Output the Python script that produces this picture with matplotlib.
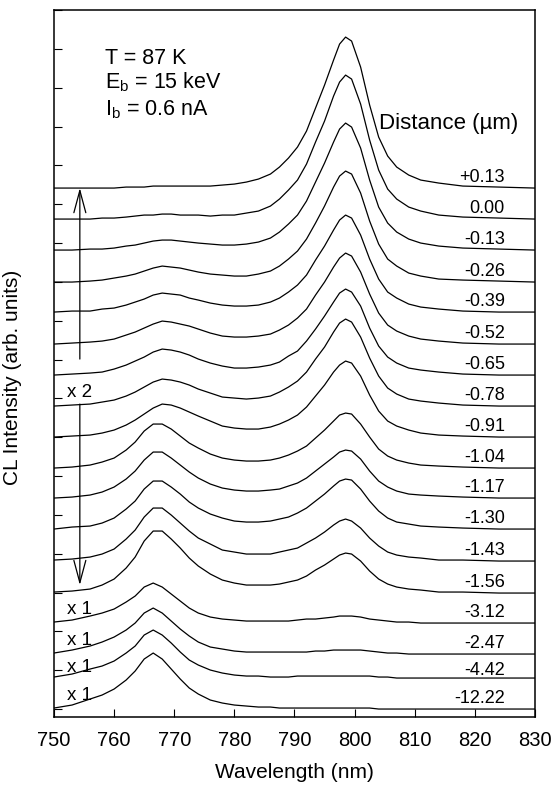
import numpy as np
import matplotlib.pyplot as plt

plt.rcParams['font.family'] = 'Liberation Sans'
plt.rcParams['mathtext.fontset'] = 'custom'
plt.rcParams['mathtext.rm'] = 'Liberation Sans'
plt.rcParams['mathtext.it'] = 'Liberation Sans:italic'

wavelength = [750, 753, 756, 758, 760, 762, 763.5, 765, 766.5, 768,
              769.5, 771, 772.5, 774, 776, 778, 780, 782, 784, 786,
              787.5, 789, 790.5, 792, 793.5, 795, 796.5, 797.5, 798.5, 799.5,
              801, 802.5, 804, 805.5, 807, 809, 811, 814, 818, 824, 830]

# CL intensity above each trace's own baseline (arb. units), one list per distance
s_p013 = [0, 0, 0, 0, 0, 1, 1, 1, 2, 2, 2, 2, 2, 2, 2, 3, 4, 6, 9, 14,
          21, 30, 41, 57, 80, 103, 128, 144, 151, 147, 121, 83, 51, 32, 21, 13, 8, 5, 2, 1, 0]
s_000 = [0, 0, 0, 1, 1, 2, 3, 4, 4, 5, 5, 4, 4, 4, 3, 4, 4, 6, 8, 13,
         20, 29, 39, 55, 77, 98, 123, 137, 144, 140, 115, 79, 49, 30, 20, 12, 8, 4, 2, 1, 0]
s_m013 = [0, 0, 1, 1, 2, 4, 5, 7, 9, 10, 10, 9, 8, 7, 6, 5, 5, 6, 8, 12,
          18, 26, 35, 49, 68, 87, 108, 121, 127, 123, 102, 70, 43, 27, 18, 11, 7, 4, 2, 1, 0]
s_m026 = [0, 0, 1, 2, 4, 6, 8, 11, 14, 16, 15, 14, 12, 10, 8, 7, 6, 6, 8, 11,
          16, 23, 31, 43, 59, 76, 95, 106, 111, 108, 89, 61, 38, 23, 16, 9, 6, 3, 2, 1, 0]
s_m039 = [0, 1, 1, 3, 4, 7, 10, 13, 17, 19, 18, 17, 14, 12, 9, 7, 6, 6, 7, 10,
          14, 20, 27, 37, 52, 66, 82, 92, 97, 94, 77, 53, 33, 20, 14, 8, 5, 3, 1, 0, 0]
s_m052 = [0, 1, 2, 3, 5, 9, 12, 16, 20, 23, 22, 20, 18, 15, 11, 8, 7, 7, 8, 10,
          14, 19, 26, 35, 49, 62, 77, 86, 91, 88, 72, 50, 31, 19, 13, 8, 5, 3, 1, 0, 0]
s_m065 = [0, 1, 2, 3, 6, 10, 14, 18, 23, 26, 25, 23, 20, 16, 12, 9, 7, 7, 8, 10,
          13, 19, 24, 34, 46, 59, 73, 82, 86, 83, 69, 47, 29, 18, 12, 7, 5, 3, 1, 0, 0]
s_m078 = [0, 1, 2, 4, 6, 10, 14, 19, 24, 27, 26, 24, 21, 17, 13, 9, 8, 7, 8, 10,
          14, 19, 25, 34, 47, 59, 74, 83, 87, 84, 69, 48, 30, 18, 12, 7, 5, 3, 1, 0, 0]
s_m091 = [0, 1, 2, 4, 7, 12, 17, 23, 29, 33, 32, 29, 25, 21, 16, 11, 9, 8, 8, 10,
          13, 17, 22, 30, 41, 52, 65, 72, 76, 74, 61, 42, 26, 16, 11, 7, 4, 2, 1, 0, 0]
s_m104 = [0, 1, 3, 6, 10, 18, 26, 37, 44, 44, 39, 32, 25, 20, 14, 10, 8, 7, 7, 8,
          10, 13, 17, 22, 30, 38, 47, 53, 55, 54, 44, 31, 19, 12, 8, 5, 3, 2, 1, 0, 0]
s_m117 = [0, 1, 3, 6, 11, 19, 27, 38, 46, 46, 40, 33, 26, 20, 14, 10, 8, 7, 7, 8,
          9, 12, 15, 20, 27, 34, 41, 46, 48, 47, 39, 27, 17, 11, 7, 4, 3, 2, 1, 0, 0]
s_m130 = [0, 2, 3, 6, 11, 20, 28, 40, 48, 48, 42, 35, 27, 21, 15, 11, 8, 7, 7, 8,
          10, 12, 16, 21, 28, 35, 43, 48, 50, 49, 40, 28, 18, 11, 7, 5, 3, 2, 1, 0, 0]
s_m143 = [1, 2, 4, 7, 12, 22, 31, 44, 53, 53, 46, 38, 30, 23, 17, 11, 9, 7, 7, 7,
          9, 11, 13, 18, 23, 29, 36, 40, 42, 40, 33, 23, 15, 9, 6, 4, 3, 1, 1, 0, 0]
s_m156 = [1, 2, 4, 8, 14, 25, 36, 52, 62, 62, 54, 45, 35, 27, 19, 13, 10, 8, 8, 8,
          9, 11, 13, 17, 23, 28, 34, 38, 40, 39, 32, 22, 14, 9, 6, 4, 3, 1, 1, 0, 0]
s_m312 = [1, 3, 7, 10, 14, 21, 27, 36, 40, 36, 29, 22, 15, 10, 6, 4, 3, 2, 2, 2,
          2, 2, 3, 4, 4, 5, 6, 7, 7, 7, 6, 4, 3, 2, 1, 1, 0, 0, 0, 0, 0]
s_m247 = [1, 4, 8, 12, 17, 24, 31, 41, 46, 41, 33, 25, 18, 12, 7, 5, 3, 2, 2, 2,
          2, 2, 2, 2, 3, 3, 4, 4, 4, 4, 4, 3, 2, 1, 1, 0, 0, 0, 0, 0, 0]
s_m442 = [1, 4, 9, 12, 17, 25, 32, 43, 48, 43, 35, 26, 18, 13, 8, 5, 3, 2, 2, 1,
          1, 1, 2, 2, 2, 2, 2, 2, 2, 2, 2, 2, 1, 1, 0, 0, 0, 0, 0, 0, 0]
s_m1222 = [1, 4, 10, 14, 20, 29, 38, 50, 56, 50, 40, 30, 21, 15, 9, 6, 4, 3, 2, 2,
           1, 1, 1, 1, 1, 1, 1, 1, 1, 1, 1, 1, 0, 0, 0, 0, 0, 0, 0, 0, 0]

spectra = [s_p013, s_000, s_m013, s_m026, s_m039, s_m052, s_m065, s_m078, s_m091,
           s_m104, s_m117, s_m130, s_m143, s_m156, s_m312, s_m247, s_m442, s_m1222]
distance_labels = ['+0.13', '0.00', '-0.13', '-0.26', '-0.39', '-0.52', '-0.65', '-0.78', '-0.91',
                   '-1.04', '-1.17', '-1.30', '-1.43', '-1.56', '-3.12', '-2.47', '-4.42', '-12.22']
# vertical stacking of the traces
offsets = [521, 490, 459, 427, 397, 365, 334, 303, 272, 241, 211, 180, 148, 116, 86, 55, 31, 0]
gains = ['', '', '', '', '', '', '', 'x 2', '', '', '', '', '', '', 'x 1', 'x 1', 'x 1', 'x 1']

fig = plt.figure(figsize=(5.56, 7.87), dpi=100)
ax = fig.add_axes([0.0971, 0.0889, 0.8651, 0.8983])

for i, (vals, off, lab) in enumerate(zip(spectra, offsets, distance_labels)):
    ax.plot(wavelength, off + np.array(vals), color='k', lw=0.9)
    dy = 3 if i == 16 else 6
    ax.text(825, off + dy, lab, ha='right', va='baseline', fontsize=13)
    if gains[i]:
        gdy = 6 if i == 16 else 9
        ax.text(752.2, off + gdy, gains[i], ha='left', va='baseline', fontsize=13.5)

# x2 range arrows
arrow = dict(arrowstyle='->,head_length=16,head_width=4.3', mutation_scale=1,
             lw=0.9, color='k', shrinkA=0, shrinkB=0)
ax.annotate('', xy=(754.3, offsets[0]), xytext=(754.3, 350), arrowprops=arrow)
ax.annotate('', xy=(754.3, 124), xytext=(754.3, 305), arrowprops=arrow)

ax.text(758.5, 645, 'T = 87 K', fontsize=15.5, va='baseline')
ax.text(758.5, 621, r'E$_\mathrm{b}$ = 15 keV', fontsize=15.5, va='baseline')
ax.text(758.5, 594, r'I$_\mathrm{b}$ = 0.6 nA', fontsize=15.5, va='baseline')
ax.text(827.2, 580, 'Distance (\u00b5m)', fontsize=16, ha='right', va='baseline')

ax.set_xlim(750, 830)
ax.set_ylim(-8, 699)
ax.set_xticks(range(750, 831, 10))
ax.set_yticks(np.linspace(0, 699, 19))
ax.tick_params(axis='x', direction='in', length=6, width=0.8, labelsize=14.5, pad=10)
ax.tick_params(axis='y', direction='in', length=6, width=0.8, labelleft=False)
for sp in ax.spines.values():
    sp.set_linewidth(1.1)

ax.set_xlabel('Wavelength (nm)', fontsize=15, va='center')
ax.xaxis.set_label_coords(0.5, -0.079)
ax.set_ylabel('CL Intensity (arb. units)', fontsize=15, va='center')
ax.yaxis.set_label_coords(-0.087, 0.48)

fig.savefig('out.png', dpi=100)
